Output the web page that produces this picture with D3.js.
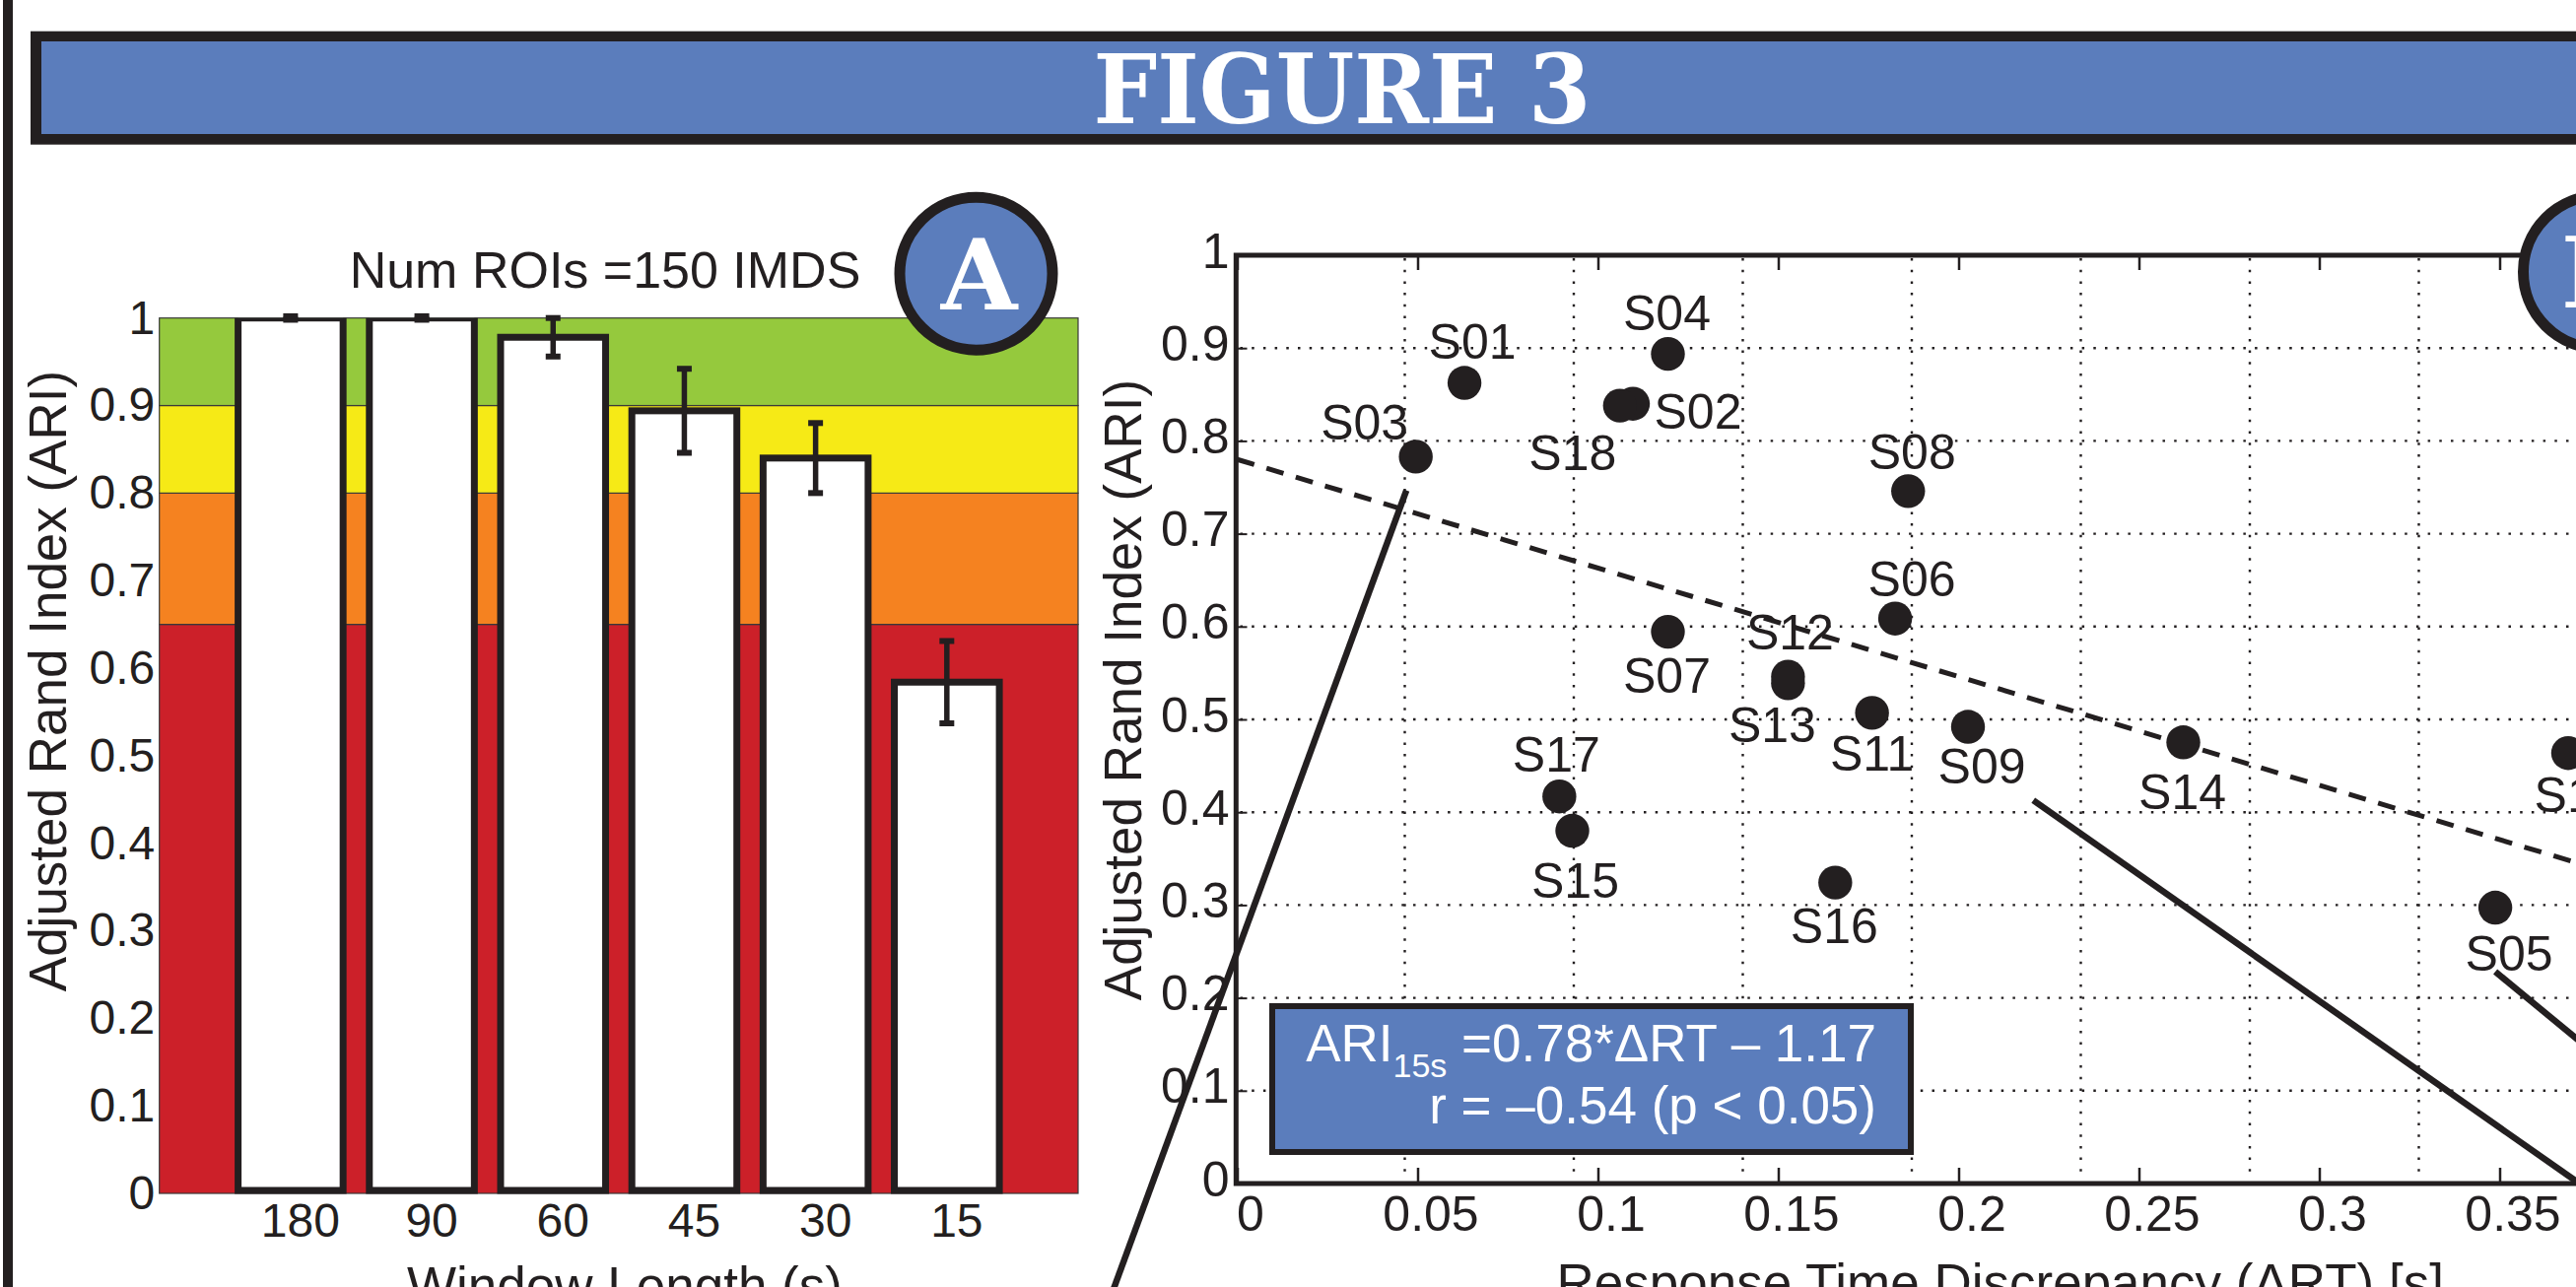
<!DOCTYPE html>
<html>
<head>
<meta charset="utf-8">
<script src="https://cdn.jsdelivr.net/npm/d3@7"></script>
<style>
  html, body { margin: 0; padding: 0; background: #ffffff; }
  svg { display: block; }
  text { font-family: "Liberation Sans", Arial, Helvetica, sans-serif; fill: #231f20; }
</style>
</head>
<body>
<svg id="fig" width="2614" height="1306"></svg>
<script>
// ---------------- DATA ----------------
// Panel A
const windowLengths = ["180", "90", "60", "45", "30", "15"];
const ariMeans      = [1.000, 1.000, 0.978, 0.894, 0.840, 0.584];
const ariErrors     = [0.002, 0.002, 0.022, 0.048, 0.040, 0.047];
const bandEdges     = [0, 0.65, 0.80, 0.90, 1.00];
const bandColors    = ["#cc2029", "#f58220", "#f6ea16", "#95c93d"];
const yTicksA       = [0, 0.1, 0.2, 0.3, 0.4, 0.5, 0.6, 0.7, 0.8, 0.9, 1];
const titleA        = "Num ROIs =150 IMDS";

// Panel B
const subjects = ["S01","S02","S03","S04","S05","S06","S07","S08","S09","S10","S11","S12","S13","S14","S15","S16","S17","S18"];
const deltaRT  = [0.0630, 0.1097, 0.0495, 0.1194, 0.3488, 0.1824, 0.1194, 0.1860, 0.2026, 0.3690, 0.1760, 0.1527, 0.1527, 0.2623, 0.0929, 0.1658, 0.0893, 0.1061];
const ari15s   = [0.8625, 0.8400, 0.7830, 0.8937, 0.2972, 0.6086, 0.5944, 0.7459, 0.4920, 0.4637, 0.5070, 0.5460, 0.5390, 0.4753, 0.3800, 0.3242, 0.4170, 0.8380];
// label offsets (pixels) relative to each point
const labelDx  = [8, 66, -52, -1, 14, 17, -1, 4, 14, 10, 0, 2, -16, -1, 3, -1, -3, -48];
const labelDy  = [-25, 25, -17, -24, 64, -23, 62, -22, 57, 60, 59, -28, 60, 68, 68, 61, -25, 65];
const fitIntercept = 0.78;
const fitSlope     = -1.17;
const xTicksB  = [0, 0.05, 0.1, 0.15, 0.2, 0.25, 0.3, 0.35];
const xGridB   = [0.05, 0.1, 0.15, 0.2, 0.25, 0.3, 0.35, 0.4];
const yTicksB  = [0, 0.1, 0.2, 0.3, 0.4, 0.5, 0.6, 0.7, 0.8, 0.9, 1];
// zoom/callout lines, in panel-B data coordinates [x1, y1, x2, y2]
const calloutLines = [
  [0.0469, 0.7467, -0.0375, -0.1476],
  [0.2207, 0.4128, 0.3947, -0.0615],
  [0.3488, 0.2282, 0.3947, 0.0812]
];
const boxLine1Main = "ARI";
const boxLine1Sub  = "15s";
const boxLine1Rest = " =0.78*\u0394RT \u2013 1.17";
const boxLine2     = "r = \u20130.54 (p < 0.05)";

// ---------------- DRAWING ----------------
const INK = "#231f20";
const BLUE = "#5b7dbc";
const svg = d3.select("#fig");
const fmt = v => String(+v.toFixed(2));

// left page rule
svg.append("rect").attr("x", 3).attr("y", 0).attr("width", 10).attr("height", 1306).attr("fill", INK);

// header banner
svg.append("rect").attr("x", 31).attr("y", 31.7).attr("width", 2700).attr("height", 115).attr("fill", INK);
svg.append("rect").attr("x", 42).attr("y", 42).attr("width", 2700).attr("height", 94).attr("fill", BLUE);
svg.append("text").attr("x", 1362).attr("y", 125)
  .attr("text-anchor", "middle")
  .attr("textLength", 505).attr("lengthAdjust", "spacingAndGlyphs")
  .style("font-family", "'DejaVu Serif', 'Liberation Serif', serif")
  .style("font-weight", "bold").style("font-size", "98px").style("fill", "#ffffff")
  .text("FIGURE 3");

// ============ PANEL A ============
const A = { left: 161.7, right: 1094, top: 322.7, bottom: 1211 };
const xA = d3.scaleBand().domain(windowLengths).range([A.left, A.right]).paddingInner(0.2).paddingOuter(0.6);
const yA = d3.scaleLinear().domain([0, 1]).range([A.bottom, A.top]);

const gA = svg.append("g");
// colour bands
const bands = d3.range(bandColors.length).map(i => ({ lo: bandEdges[i], hi: bandEdges[i + 1], c: bandColors[i] }));
gA.selectAll("rect.band").data(bands).join("rect").attr("class", "band")
  .attr("x", A.left).attr("width", A.right - A.left)
  .attr("y", d => yA(d.hi)).attr("height", d => yA(d.lo) - yA(d.hi))
  .attr("fill", d => d.c).attr("stroke", "#3a3a3a").attr("stroke-width", 1.2);

svg.append("clipPath").attr("id", "clipA").append("rect")
  .attr("x", A.left - 20).attr("y", A.top).attr("width", A.right - A.left + 40).attr("height", A.bottom - A.top + 20);

const barsData = windowLengths.map((w, i) => ({ w, v: ariMeans[i], e: ariErrors[i] }));
gA.append("g").attr("clip-path", "url(#clipA)")
  .selectAll("rect.bar").data(barsData).join("rect").attr("class", "bar")
  .attr("x", d => xA(d.w)).attr("width", xA.bandwidth())
  .attr("y", d => yA(d.v)).attr("height", d => yA(0) - yA(d.v) - 3)
  .attr("fill", "#ffffff").attr("stroke", INK).attr("stroke-width", 7);

// error bars
const eb = gA.append("g").selectAll("g").data(barsData).join("g");
const cx = d => xA(d.w) + xA.bandwidth() / 2;
eb.append("line").attr("x1", cx).attr("x2", cx)
  .attr("y1", d => yA(d.v - d.e)).attr("y2", d => yA(d.v + d.e))
  .attr("stroke", INK).attr("stroke-width", 5.5);
eb.append("line").attr("x1", d => cx(d) - 7.5).attr("x2", d => cx(d) + 7.5)
  .attr("y1", d => yA(d.v - d.e)).attr("y2", d => yA(d.v - d.e))
  .attr("stroke", INK).attr("stroke-width", 6);
eb.append("line").attr("x1", d => cx(d) - 7.5).attr("x2", d => cx(d) + 7.5)
  .attr("y1", d => yA(d.v + d.e)).attr("y2", d => yA(d.v + d.e))
  .attr("stroke", INK).attr("stroke-width", 6);

// axes A
const axA_y = gA.append("g").attr("transform", `translate(${A.left},0)`)
  .call(d3.axisLeft(yA).tickValues(yTicksA).tickFormat(fmt).tickSize(0).tickPadding(4.5));
axA_y.select(".domain").remove();
axA_y.selectAll("text").style("font-size", "48px").style("font-family", "'Liberation Sans', Arial, sans-serif").attr("fill", INK);

const axA_x = gA.append("g").attr("transform", `translate(0,${A.bottom})`)
  .call(d3.axisBottom(xA).tickSize(0).tickPadding(9.5));
axA_x.select(".domain").remove();
axA_x.selectAll("text").style("font-size", "48px").style("font-family", "'Liberation Sans', Arial, sans-serif").attr("fill", INK).attr("dx", 10);

gA.append("text").attr("x", 614).attr("y", 291.7).attr("text-anchor", "middle")
  .style("font-size", "52px").text(titleA);
gA.append("text").attr("transform", "translate(67,691) rotate(-90)").attr("text-anchor", "middle")
  .style("font-size", "53px").text("Adjusted Rand Index (ARI)");
gA.append("text").attr("x", 634).attr("y", 1323).attr("text-anchor", "middle")
  .style("font-size", "53px").text("Window Length (s)");

// ============ PANEL B ============
const B = { left: 1255.5, top: 259, bottom: 1201 };
const xB = d3.scaleLinear().domain([0, 0.4]).range([B.left, B.left + 0.4 * 3660]);
const xGrid = d3.scaleLinear().domain([0, 0.4]).range([1254, 1254 + 0.4 * 3430]);
const yB = d3.scaleLinear().domain([0, 1]).range([B.bottom, B.top]);
const gB = svg.append("g");

// grid
gB.append("g").selectAll("line").data(xGridB).join("line")
  .attr("x1", d => xGrid(d)).attr("x2", d => xGrid(d)).attr("y1", B.top + 3).attr("y2", B.bottom - 3)
  .attr("stroke", INK).attr("stroke-width", 2.4).attr("stroke-dasharray", "2.5,9.2");
gB.append("g").selectAll("line").data(yTicksB.filter(t => t > 0 && t < 1)).join("line")
  .attr("x1", B.left + 3).attr("x2", 2700).attr("y1", d => yB(d)).attr("y2", d => yB(d))
  .attr("stroke", INK).attr("stroke-width", 2.4).attr("stroke-dasharray", "2.5,9.2");

// ticks + labels
const axB_top = gB.append("g").attr("transform", `translate(0,${B.top})`)
  .call(d3.axisTop(xB).tickValues(xTicksB).tickSize(-15).tickFormat(""));
axB_top.select(".domain").remove();
axB_top.selectAll("line").attr("stroke", INK).attr("stroke-width", 2.5);

const axB_x = gB.append("g").attr("transform", `translate(0,${B.bottom})`)
  .call(d3.axisBottom(xB).tickValues(xTicksB).tickFormat(fmt).tickSizeInner(-16).tickSizeOuter(0).tickPadding(12.5));
axB_x.select(".domain").remove();
axB_x.selectAll("line").attr("stroke", INK).attr("stroke-width", 2.5);
axB_x.selectAll("text").style("font-size", "50px").style("font-family", "'Liberation Sans', Arial, sans-serif").attr("fill", INK).attr("dx", 13);

const axB_y = gB.append("g").attr("transform", `translate(${B.left},0)`)
  .call(d3.axisLeft(yB).tickValues(yTicksB).tickFormat(fmt).tickSizeInner(-10).tickSizeOuter(0).tickPadding(8));
axB_y.select(".domain").remove();
axB_y.selectAll("line").attr("stroke", INK).attr("stroke-width", 2);
axB_y.selectAll("text").style("font-size", "50px").style("font-family", "'Liberation Sans', Arial, sans-serif").attr("fill", INK).attr("dy", "0.24em");

// axis frame lines
gB.append("path")
  .attr("d", `M2700,${B.top} L${B.left - 1.2},${B.top} L${B.left - 1.2},${B.bottom} L2700,${B.bottom}`)
  .attr("fill", "none").attr("stroke", INK).attr("stroke-width", 5).attr("stroke-linejoin", "miter");

// fit line (dashed)
gB.append("line")
  .attr("x1", xB(0)).attr("y1", yB(fitIntercept))
  .attr("x2", xB(0.4)).attr("y2", yB(fitIntercept + fitSlope * 0.4))
  .attr("stroke", INK).attr("stroke-width", 5).attr("stroke-dasharray", "18,13");

// callout lines
gB.append("g").selectAll("line").data(calloutLines).join("line")
  .attr("x1", d => xB(d[0])).attr("y1", d => yB(d[1]))
  .attr("x2", d => xB(d[2])).attr("y2", d => yB(d[3]))
  .attr("stroke", INK).attr("stroke-width", 6.5);

// points
const pts = subjects.map((s, i) => ({ s, x: deltaRT[i], y: ari15s[i], dx: labelDx[i], dy: labelDy[i] }));
gB.append("g").selectAll("circle").data(pts).join("circle")
  .attr("cx", d => xB(d.x)).attr("cy", d => yB(d.y)).attr("r", 17.2).attr("fill", INK);
gB.append("g").selectAll("text").data(pts).join("text")
  .attr("x", d => xB(d.x) + d.dx).attr("y", d => yB(d.y) + d.dy)
  .attr("text-anchor", "middle").style("font-size", "50px").text(d => d.s);

// equation box
gB.append("rect").attr("x", 1291).attr("y", 1021).attr("width", 648).attr("height", 148)
  .attr("fill", BLUE).attr("stroke", INK).attr("stroke-width", 6);
const t1 = gB.append("text").attr("x", 1904).attr("y", 1076.7).attr("text-anchor", "end")
  .style("font-size", "53px").style("fill", "#ffffff");
t1.append("tspan").text(boxLine1Main).style("fill", "#ffffff");
t1.append("tspan").attr("dy", 16).style("font-size", "34px").style("fill", "#ffffff").text(boxLine1Sub);
t1.append("tspan").attr("dy", -16).style("fill", "#ffffff").text(boxLine1Rest);
gB.append("text").attr("x", 1904).attr("y", 1140).attr("text-anchor", "end")
  .style("font-size", "53px").style("fill", "#ffffff").text(boxLine2);

// axis titles B
gB.append("text").attr("transform", "translate(1158,700) rotate(-90)").attr("text-anchor", "middle")
  .style("font-size", "53px").text("Adjusted Rand Index (ARI)");
gB.append("text").attr("x", 1579.5).attr("y", 1320).attr("text-anchor", "start")
  .style("font-size", "53px").text("Response Time Discrepancy (\u0394RT) [s]");

// panel badges
function badge(cxp, cyp, letter) {
  const g = svg.append("g");
  g.append("circle").attr("cx", cxp).attr("cy", cyp).attr("r", 77.5)
    .attr("fill", BLUE).attr("stroke", INK).attr("stroke-width", 11);
  g.append("text").attr("x", cxp + 3).attr("y", cyp + 36).attr("text-anchor", "middle")
    .style("font-family", "'DejaVu Serif', 'Liberation Serif', serif").style("font-weight", "bold")
    .style("font-size", "100px").style("fill", "#ffffff").text(letter);
}
badge(990.5, 277.7, "A");
badge(2638, 276, "B");
</script>
</body>
</html>
